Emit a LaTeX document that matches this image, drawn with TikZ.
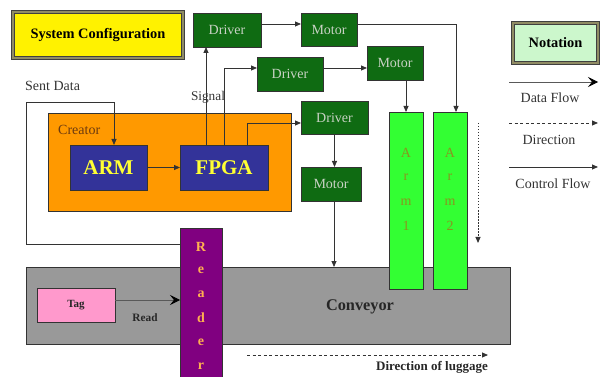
\documentclass[tikz,border=0pt]{standalone}
\usepackage{fontspec}
\setmainfont{Liberation Serif}
\usetikzlibrary{arrows.meta,calc}
\definecolor{dkgreen}{HTML}{0F6B12}
\definecolor{drvtext}{HTML}{C8D2C4}
\definecolor{orng}{HTML}{FF9900}
\definecolor{cpublue}{HTML}{333399}
\definecolor{cpuyel}{HTML}{FFFF33}
\definecolor{convgray}{HTML}{999999}
\definecolor{purp}{HTML}{800080}
\definecolor{readtxt}{HTML}{FFB050}
\definecolor{armgreen}{HTML}{33FF33}
\definecolor{armtxt}{HTML}{8A9420}
\definecolor{tagpink}{HTML}{FF99CC}
\definecolor{notegreen}{HTML}{CCF7CC}
\definecolor{creatortxt}{HTML}{6B3A10}
\definecolor{linegray}{HTML}{333333}
\tikzset{
  x=1pt, y=-1pt,
  box/.style={draw=black!80, line width=0.8pt, inner sep=0pt, outer sep=0pt},
  hw/.style={box, fill=dkgreen, text=drvtext, font=\fontsize{14}{16}\selectfont},
  cpu/.style={box, fill=cpublue, text=cpuyel, font=\bfseries\fontsize{21}{24}\selectfont},
  titlebox/.style={draw=black!75, double=gray!70!olive, double distance=1.6pt, line width=0.8pt,
    inner sep=0pt, outer sep=0pt, font=\bfseries\fontsize{14.4}{16}\selectfont},
  ctrl/.style={draw=linegray, line width=0.8pt, -{Triangle[length=6pt,width=5pt]}},
  dataf/.style={draw=gray!70!black, line width=0.7pt, -{Stealth[length=10pt,width=10pt,inset=4pt,color=black]}},
  dirf/.style={draw=linegray, line width=0.8pt, dash pattern=on 3pt off 2.5pt, -{Triangle[length=6pt,width=5pt]}},
  lbl/.style={font=\fontsize{14}{16}\selectfont, text=black!80, inner sep=0pt},
  blbl/.style={font=\bfseries\fontsize{11.3}{13}\selectfont, text=black!85, inner sep=0pt},
  vlet/.style={inner sep=0pt},
}
\begin{document}
\begin{tikzpicture}
\useasboundingbox (0,0) rectangle (603,377);

% Title boxes
\node[titlebox, fill=yellow, minimum width=170pt, minimum height=46pt, anchor=north west] (sys) at (13,12) {System Configuration};
\node[titlebox, fill=notegreen, minimum width=85pt, minimum height=40pt, anchor=north west] (note) at (513,23) {Notation};

% Creator
\node[box, fill=orng, minimum width=243pt, minimum height=98pt, anchor=north west] (creator) at (48,113) {};
\node[anchor=west, inner sep=0pt, font=\fontsize{14}{16}\selectfont, text=creatortxt] (creatorlbl) at (58,130) {Creator};
\node[cpu, minimum width=77pt, minimum height=45pt, anchor=north west] (armcpu) at (70,145) {ARM};
\node[cpu, minimum width=88pt, minimum height=45pt, anchor=north west] (fpga) at (180,145) {FPGA};

% Drivers and motors
\node[hw, minimum width=68pt, minimum height=34pt, anchor=north west] (drv1) at (193,13) {Driver};
\node[hw, minimum width=56pt, minimum height=33pt, anchor=north west] (mot1) at (301,13) {Motor};
\node[hw, minimum width=66pt, minimum height=34pt, anchor=north west] (drv2) at (257,57) {Driver};
\node[hw, minimum width=56pt, minimum height=34pt, anchor=north west] (mot2) at (367,46) {Motor};
\node[hw, minimum width=67pt, minimum height=33pt, anchor=north west] (drv3) at (301,101) {Driver};
\node[hw, minimum width=60pt, minimum height=34pt, anchor=north west] (mot3) at (301,167) {Motor};

% Conveyor
\node[box, fill=convgray, minimum width=484pt, minimum height=77pt, anchor=north west] (conv) at (26,267) {};
\node[font=\bfseries\fontsize{16.3}{18}\selectfont, text=black!85, inner sep=0pt] (convlbl) at (360,307) {Conveyor};

% Arms
\node[box, fill=armgreen, minimum width=34pt, minimum height=177pt, anchor=north west] (arm1) at (389,112) {};
\node[box, fill=armgreen, minimum width=34pt, minimum height=177pt, anchor=north west] (arm2) at (433,112) {};
\foreach \l [count=\i] in {A,r,m,1} {
  \node[vlet, text=armtxt, font=\fontsize{14}{16}\selectfont] (a1l\i) at (406,129+24.3*\i) {\l};
}
\foreach \l [count=\i] in {A,r,m,2} {
  \node[vlet, text=armtxt, font=\fontsize{14}{16}\selectfont] (a2l\i) at (450,129+24.3*\i) {\l};
}

% Reader
\node[box, fill=purp, minimum width=42pt, minimum height=160pt, anchor=north west] (reader) at (180,228) {};
\foreach \l [count=\i] in {R,e,a,d,e,r} {
  \node[vlet, text=readtxt, font=\bfseries\fontsize{14}{16}\selectfont] (rl\i) at (201,223+23.8*\i) {\l};
}

% Tag
\node[box, fill=tagpink, minimum width=78pt, minimum height=34pt, anchor=north west, font=\bfseries\fontsize{11}{13}\selectfont, text=black!85] (tag) at (37,288) {Tag};
\draw[dataf] ([yshift=5pt]tag.east) -- ([yshift=5pt]tag.east -| reader.west);
\node[blbl] (readlbl) at (145,318) {Read};

% Sent data loop
\coordinate (loopL) at (26,102);
\draw[ctrl] ([yshift=-16pt]reader.north west) -| (loopL) -| (armcpu.north -| 114,0);
\node[lbl, anchor=west] (sent) at (25,86) {Sent Data};

% ARM -> FPGA
\draw[ctrl] (armcpu.east) -- (fpga.west);

% FPGA outputs
\draw[ctrl] ([xshift=26pt]fpga.north west) -- ([xshift=26pt]fpga.north west |- drv1.south);
\draw[ctrl] ([xshift=44pt]fpga.north west) |- ([yshift=6pt]drv2.west);
\draw[ctrl] ([xshift=67pt]fpga.north west) |- ([yshift=-5.5pt]drv3.west);
\node[lbl, font=\fontsize{13.3}{15}\selectfont] (signal) at (208,97) {Signal};

% Driver -> Motor
\draw[ctrl] ([yshift=6pt]drv1.east) -- ([yshift=6pt]drv1.east -| mot1.west);
\draw[ctrl] ([yshift=6pt]drv2.west -| drv2.east) -- ([yshift=6pt]drv2.west -| mot2.west);
\draw[ctrl] (drv3.south) -- (drv3.south |- mot3.north);

% Motor -> Arms / Conveyor
\draw[ctrl] ([yshift=5.5pt]mot1.east) -| ([xshift=6pt]arm2.north);
\draw[ctrl] ([xshift=-17pt]mot2.south east) -- ([xshift=-17pt]mot2.south east |- arm1.north);
\draw[ctrl] ([xshift=3pt]mot3.south) -- ([xshift=3pt]mot3.south |- conv.north);

% Arm direction (dotted)
\coordinate (ad1) at (478,123);
\coordinate (ad2) at (478,243);
\draw[draw=linegray, line width=1pt, dash pattern=on 1.5pt off 1.5pt, -{Triangle[length=6pt,width=5pt]}] (ad1) -- (ad2);

% Direction of luggage
\coordinate (dl1) at (247,355);
\coordinate (dl2) at (488,355);
\draw[dirf] (dl1) -- (dl2);
\node[font=\bfseries\fontsize{13}{15}\selectfont, text=black!85, anchor=east, inner sep=0pt] (dirlbl) at (488,367) {Direction of luggage};

% Notation legend
\coordinate (n1a) at (509,82);  \coordinate (n1b) at (598,82);
\coordinate (n2a) at (509,123); \coordinate (n2b) at (598,123);
\coordinate (n3a) at (509,167); \coordinate (n3b) at (598,167);
\draw[dataf] (n1a) -- (n1b);
\draw[dirf] (n2a) -- (n2b);
\draw[ctrl] (n3a) -- (n3b);
\node[lbl] (dflbl) at (550,98) {Data Flow};
\node[lbl] (dirnlbl) at (549,140) {Direction};
\node[lbl] (cflbl) at (553,184) {Control Flow};
\end{tikzpicture}
\end{document}
